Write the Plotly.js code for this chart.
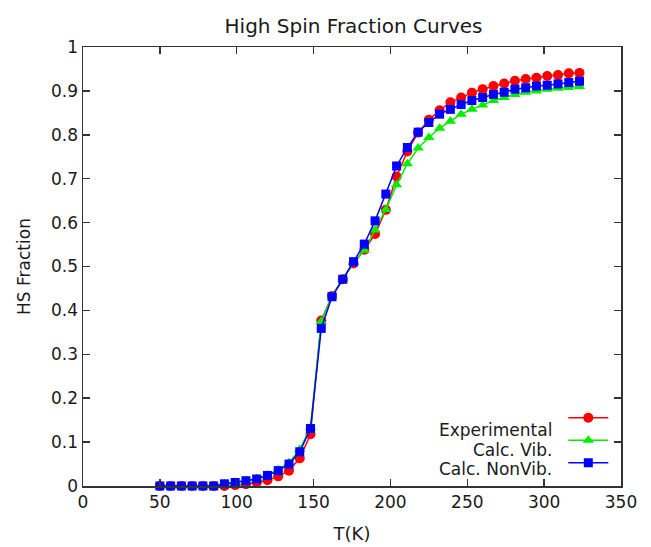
<!DOCTYPE html>
<html>
<head>
<meta charset="utf-8">
<script src="https://cdn.plot.ly/plotly-3.0.1.min.js"></script>
<style>html,body{margin:0;padding:0;background:#fff;}#chart{width:651px;height:547px;}</style>
</head>
<body>
<div id="chart"></div>
<script>
// Temperatures (K)
const temperature = [50,57,64,71,78,85,92,99,106,113,120,127,134,141,148,155,162,169,176,183,190,197,204,211,218,225,232,239,246,253,260,267,274,281,288,295,302,309,316,323];
const experimental = [0,0,0,0,0,0,0,0.002,0.004,0.008,0.013,0.022,0.035,0.063,0.118,0.377,0.433,0.471,0.507,0.538,0.574,0.629,0.705,0.762,0.805,0.834,0.856,0.874,0.885,0.896,0.904,0.911,0.917,0.923,0.927,0.930,0.934,0.936,0.940,0.941];
const calcVib = [0,0,0,0,0,0,0.005,0.008,0.012,0.017,0.025,0.037,0.053,0.083,0.133,0.375,0.433,0.471,0.509,0.537,0.583,0.630,0.686,0.734,0.770,0.794,0.815,0.831,0.847,0.858,0.868,0.878,0.885,0.892,0.897,0.900,0.904,0.906,0.908,0.910];
const calcNonVib = [0,0,0,0,0,0,0.005,0.008,0.012,0.016,0.024,0.035,0.050,0.078,0.131,0.359,0.431,0.471,0.511,0.551,0.604,0.665,0.729,0.771,0.806,0.828,0.847,0.858,0.869,0.878,0.885,0.892,0.897,0.904,0.907,0.911,0.913,0.916,0.919,0.922];
const seriesNames = ['Experimental','Calc. Vib.','Calc. NonVib.'];
const xTicks = [0,50,100,150,200,250,300,350];
const yTicks = [0,0.1,0.2,0.3,0.4,0.5,0.6,0.7,0.8,0.9,1];

const FONT = 'DejaVu Sans, Verdana, sans-serif';
function tr(y, name, color, symbol, size) {
  return {x: temperature, y: y, type: 'scatter', mode: 'lines+markers', name: '',
    meta: name,
    line: {color: color, width: 1.5},
    marker: {color: color, symbol: symbol, size: size},
    cliponaxis: false, hoverinfo: 'x+y'};
}
const data = [
  tr(experimental, seriesNames[0], '#ff0000', 'circle', 10),
  tr(calcVib, seriesNames[1], '#00ee00', 'triangle-up', 10),
  tr(calcNonVib, seriesNames[2], '#0000ff', 'square', 9)
];
const legendRowsY = [0.127, 0.083, 0.039];
const annotations = seriesNames.map((n, i) => ({
  xref: 'paper', yref: 'paper', x: 0.876, y: legendRowsY[i], xanchor: 'right', yanchor: 'middle',
  text: n, showarrow: false, font: {family: FONT, size: 17, color: '#1a1a1a'}
}));
const axisCommon = {
  showgrid: false, zeroline: false, showline: true, linecolor: '#333', linewidth: 1.5,
  mirror: 'ticks', ticks: 'inside', ticklen: 7, tickwidth: 1.5, tickcolor: '#333',
  tickfont: {family: FONT, size: 17, color: '#1a1a1a'}
};
const layout = {
  width: 651, height: 547,
  margin: {l: 83, r: 30, t: 47, b: 61},
  paper_bgcolor: '#fff', plot_bgcolor: '#fff',
  title: {text: 'High Spin Fraction Curves', x: 0.543, xanchor: 'center', y: 0.953, yanchor: 'middle',
    font: {family: FONT, size: 20, color: '#1a1a1a'}},
  xaxis: Object.assign({}, axisCommon, {range: [0, 350], tickvals: xTicks, ticktext: xTicks.map(String),
    title: {text: 'T(K)', font: {family: FONT, size: 18, color: '#1a1a1a'}, standoff: 16}}),
  yaxis: Object.assign({}, axisCommon, {range: [0, 1], tickvals: yTicks, ticktext: yTicks.map(String),
    title: {text: 'HS Fraction', font: {family: FONT, size: 17, color: '#1a1a1a'}, standoff: 16}}),
  showlegend: true,
  legend: {x: 0.995, xanchor: 'right', y: 0.015, yanchor: 'bottom', bgcolor: 'rgba(0,0,0,0)',
    font: {family: FONT, size: 15}, itemwidth: 40, tracegroupgap: 0},
  annotations: annotations
};
Plotly.newPlot('chart', data, layout, {displayModeBar: false, staticPlot: true});
</script>
</body>
</html>
